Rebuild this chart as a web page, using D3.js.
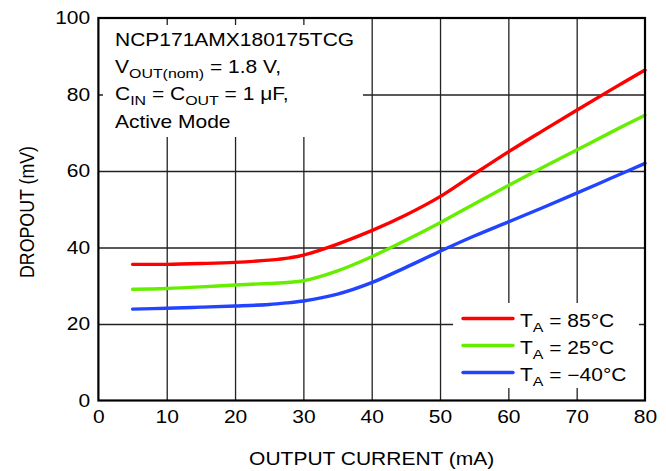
<!DOCTYPE html>
<html lang="en">
<head>
  <meta charset="UTF-8">
  <title>NCP171 Dropout vs Output Current</title>
  <script src="https://d3js.org/d3.v7.min.js"></script>
  <style>
    body { margin: 0; background: #fff; }
    text { font-family: "Liberation Sans", Arial, Helvetica, sans-serif; fill: #000; }
  </style>
</head>
<body>
<div id="chart"></div>
<script>
// Data
const current = [5, 10, 15, 20, 25, 28, 30, 35, 40, 45, 50, 55, 60, 65, 70, 75, 80];
const drop85 = [35.6, 35.6, 35.8, 36.1, 36.7, 37.3, 38.0, 40.9, 44.4, 48.5, 53.3, 59.2, 65.0, 70.5, 75.9, 81.2, 86.4];
const drop25 = [29.1, 29.3, 29.7, 30.2, 30.6, 30.9, 31.3, 33.9, 37.6, 41.9, 46.5, 51.4, 56.2, 60.9, 65.5, 70.1, 74.6];
const dropM40 = [23.9, 24.1, 24.4, 24.7, 25.1, 25.6, 26.0, 27.8, 30.8, 34.8, 39.0, 43.0, 46.7, 50.4, 54.2, 58.1, 62.0];

const xTicks = [0, 10, 20, 30, 40, 50, 60, 70, 80];
const yTicks = [0, 20, 40, 60, 80, 100];

const seriesNames = ["85°C", "25°C", "\u221240°C"];
const seriesColors = ["#ff0000", "#66ee00", "#2244ff"];
const seriesValues = [drop85, drop25, dropM40];

const W = 666, H = 471;
const SX = 1.18; // text in the reference is stretched horizontally
const FS = 17.8;

const svg = d3.select("#chart").append("svg")
  .attr("width", W)
  .attr("height", H);

const x = d3.scaleLinear().domain([0, 80]).range([98.4, 645]);
const y = d3.scaleLinear().domain([0, 100]).range([400.5, 18]);

const pLeft = x(0), pRight = x(80), pTop = y(100), pBottom = y(0);

// grid lines
svg.append("g")
  .attr("transform", `translate(0,${pBottom})`)
  .call(d3.axisBottom(x).tickValues(xTicks.slice(1, -1)).tickSize(-(pBottom - pTop)).tickFormat(""))
  .call(g => g.select(".domain").remove())
  .call(g => g.selectAll("line").attr("stroke", "#222").attr("stroke-width", 1.3));

svg.append("g")
  .attr("transform", `translate(${pLeft},0)`)
  .call(d3.axisLeft(y).tickValues(yTicks.slice(1, -1)).tickSize(-(pRight - pLeft)).tickFormat(""))
  .call(g => g.select(".domain").remove())
  .call(g => g.selectAll("line").attr("stroke", "#222").attr("stroke-width", 1.3));

// white boxes behind the notes
svg.append("rect").attr("x", 103).attr("y", 25).attr("width", 260).attr("height", 112).attr("fill", "#fff");
svg.append("rect").attr("x", 453).attr("y", 303).attr("width", 186).attr("height", 85).attr("fill", "#fff");

// curves
const line = d3.line()
  .x((d, i) => x(current[i]))
  .y(d => y(d))
  .curve(d3.curveCatmullRom.alpha(0.5));

seriesValues.forEach((vals, k) => {
  svg.append("path")
    .datum(vals)
    .attr("d", line)
    .attr("fill", "none")
    .attr("stroke", seriesColors[k])
    .attr("stroke-width", 3.4)
    .attr("stroke-linecap", "round");
});

// frame
svg.append("rect")
  .attr("x", pLeft).attr("y", pTop)
  .attr("width", pRight - pLeft).attr("height", pBottom - pTop)
  .attr("fill", "none")
  .attr("stroke", "#000")
  .attr("stroke-width", 2.2);

// tick labels
svg.append("g")
  .attr("transform", `translate(0,${pBottom})`)
  .call(d3.axisBottom(x).tickValues(xTicks).tickSize(0).tickPadding(9.5))
  .call(g => g.select(".domain").remove())
  .call(g => g.selectAll("text")
    .attr("font-size", FS)
    .attr("transform", `scale(${SX},1)`));

svg.append("g")
  .attr("transform", `translate(${pLeft},0)`)
  .call(d3.axisLeft(y).tickValues(yTicks).tickSize(0).tickPadding(7))
  .call(g => g.select(".domain").remove())
  .call(g => g.selectAll("text")
    .attr("font-size", FS)
    .attr("transform", `scale(${SX},1)`));

svg.selectAll(".tick text").attr("font-family", null);
svg.selectAll("g[font-family]").attr("font-family", null).attr("font-size", null);

// axis titles
svg.append("text")
  .attr("transform", `translate(${(pLeft + pRight) / 2},465) scale(${SX},1)`)
  .attr("text-anchor", "middle")
  .attr("font-size", FS)
  .text("OUTPUT CURRENT (mA)");

svg.append("text")
  .attr("transform", `translate(34,212) scale(${SX},1) rotate(-90)`)
  .attr("text-anchor", "middle")
  .attr("font-size", FS)
  .text("DROPOUT (mV)");

// condition note
const note = svg.append("g").attr("font-size", FS);
function noteLine(yy, parts) {
  const t = note.append("text").attr("transform", `translate(115,${yy}) scale(${SX},1)`);
  parts.forEach(p => {
    const s = t.append("tspan").text(p.t);
    if (p.sub) s.attr("font-size", 13.5).attr("dy", p.dy);
    else if (p.dy) s.attr("dy", p.dy);
  });
}
noteLine(46, [{ t: "NCP171AMX180175TCG" }]);
noteLine(73, [{ t: "V" }, { t: "OUT(nom)", sub: true, dy: 5 }, { t: " = 1.8 V,", dy: -5 }]);
noteLine(100, [{ t: "C" }, { t: "IN", sub: true, dy: 5 }, { t: " = C", dy: -5 },
  { t: "OUT", sub: true, dy: 5 }, { t: " = 1 \u03bcF,", dy: -5 }]);
noteLine(128, [{ t: "Active Mode" }]);

// legend
seriesNames.forEach((name, k) => {
  const ly = 318.5 + k * 27;
  svg.append("line")
    .attr("x1", 463).attr("x2", 513)
    .attr("y1", ly).attr("y2", ly)
    .attr("stroke", seriesColors[k])
    .attr("stroke-width", 3.4)
    .attr("stroke-linecap", "round");
  const t = svg.append("text")
    .attr("transform", `translate(520,${ly + 8.5}) scale(${SX},1)`)
    .attr("font-size", FS);
  t.append("tspan").text("T");
  t.append("tspan").text("A").attr("font-size", 13.5).attr("dy", 5);
  t.append("tspan").text(" = " + name).attr("dy", -5);
});
</script>
</body>
</html>
